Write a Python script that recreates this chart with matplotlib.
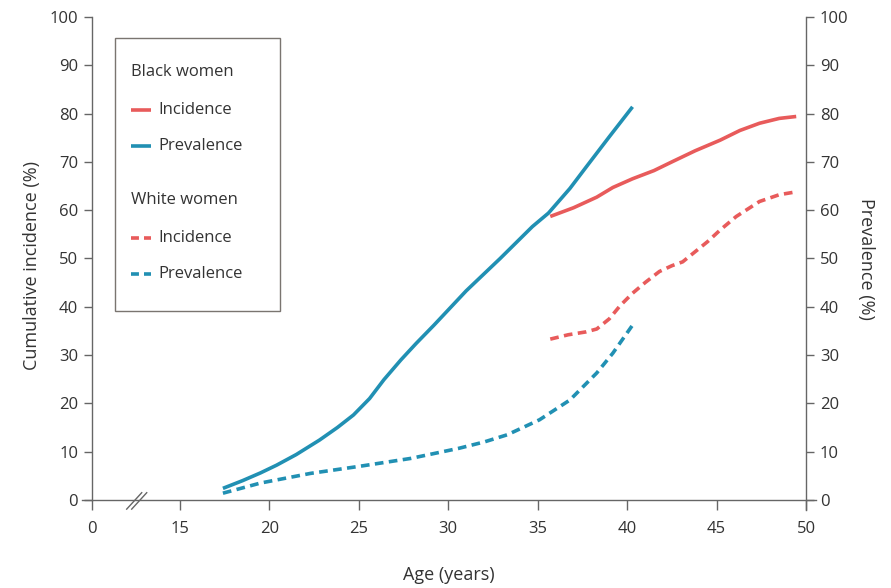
import numpy as np
import matplotlib.pyplot as plt
from matplotlib.lines import Line2D
from matplotlib.patches import Rectangle

plt.rcParams['font.family'] = ['Open Sans', 'DejaVu Sans']

RED = "#E85B5B"
BLUE = "#2190B3"
TEXT = "#333333"
AXIS = "#666666"

# where the "0" sits on the broken x axis
X_ZERO = 10.08

# Black women
black_prev_age = [17.4, 18.5, 19.5, 20.4, 21.5, 22.8, 23.8, 24.7, 25.6, 26.4, 27.35,
                  28.2, 29.2, 31.0, 32.9, 34.7, 35.6, 36.8, 37.7, 39.0, 40.3]
black_prev = [2.4, 4.0, 5.6, 7.2, 9.4, 12.4, 15.0, 17.6, 21.0, 24.9, 29.0,
              32.4, 36.2, 43.3, 50.0, 56.6, 59.4, 64.5, 68.9, 75.2, 81.4]
black_inc_age = [35.7, 37.0, 38.3, 39.2, 40.3, 41.5, 42.5, 43.8, 45.2, 46.3, 47.4, 48.5, 49.45]
black_inc = [58.7, 60.5, 62.7, 64.7, 66.5, 68.2, 70.0, 72.3, 74.5, 76.5, 78.0, 79.0, 79.4]

# White women
white_inc_age = [35.7, 36.7, 37.7, 38.3, 39.0, 39.6, 40.3, 41.0, 41.8, 42.5, 43.1,
                 43.7, 44.5, 45.2, 46.1, 47.4, 48.5, 49.45]
white_inc = [33.3, 34.2, 34.8, 35.4, 37.5, 40.2, 42.8, 45.0, 47.3, 48.5, 49.3,
             51.1, 53.5, 55.9, 58.7, 61.8, 63.2, 63.8]
white_prev_age = [17.4, 19.5, 22.3, 25.1, 27.9, 30.6, 32.0, 33.3, 35.1, 36.8, 38.3, 39.2, 40.3]
white_prev = [1.4, 3.5, 5.5, 7.0, 8.6, 10.7, 12.0, 13.5, 16.6, 20.7, 26.3, 30.4, 36.2]

x_ticks = [X_ZERO, 15, 20, 25, 30, 35, 40, 45, 50]
x_labels = ["0", "15", "20", "25", "30", "35", "40", "45", "50"]
y_ticks = np.arange(0, 101, 10)

fig = plt.figure(figsize=(8.91, 5.88), dpi=100)
ax = fig.add_axes([0.0922, 0.1325, 0.8235, 0.8386])
ax.set_xlim(X_ZERO - 0.55, 50.55)
ax.set_ylim(-2.1, 100)

LW = 2.6
DASH = (2.4, 1.5)
ax.plot(black_prev_age, black_prev, color=BLUE, lw=LW, solid_capstyle='butt')
ax.plot(black_inc_age, black_inc, color=RED, lw=LW, solid_capstyle='butt')
ax.plot(white_inc_age, white_inc, color=RED, lw=LW, dashes=DASH, dash_capstyle='butt')
ax.plot(white_prev_age, white_prev, color=BLUE, lw=LW, dashes=DASH, dash_capstyle='butt')

# spines
ax.spines['top'].set_visible(False)
for s in ['left', 'right', 'bottom']:
    ax.spines[s].set_color(AXIS)
    ax.spines[s].set_linewidth(1.0)
ax.spines['left'].set_position(('data', X_ZERO))
ax.spines['right'].set_position(('data', 50))
ax.spines['bottom'].set_position(('data', 0))
ax.spines['left'].set_bounds(0, 100)
ax.spines['right'].set_bounds(-2.1, 100)

ax.set_xticks(x_ticks)
ax.set_xticklabels(x_labels)
ax.set_yticks(y_ticks)
ax.tick_params(axis='x', direction='out', length=7, width=1, color=AXIS,
               labelsize=12, labelcolor=TEXT, pad=8)
ax.tick_params(axis='y', direction='out', length=6, width=1, color=AXIS,
               labelsize=12, labelcolor=TEXT, pad=4,
               left=True, right=True, labelleft=True, labelright=True)

fig.text(449 / 891, 1 - 575 / 588, "Age (years)", fontsize=13, color=TEXT,
         ha='center', va='center')
fig.text(32 / 891, 1 - 266 / 588, "Cumulative incidence (%)", fontsize=13, color=TEXT,
         ha='center', va='center', rotation=90)
fig.text(866 / 891, 1 - 259 / 588, "Prevalence (%)", fontsize=13, color=TEXT,
         ha='center', va='center', rotation=270)

# axis break marks
for dx in [0.0, 0.28]:
    ax.plot([12.02 + dx, 12.86 + dx], [-1.9, 1.5], color=AXIS, lw=1.0, clip_on=False)

# legend box
W, H = 891.0, 588.0
def fx(px):
    return px / W
def fy(py):
    return 1 - py / H

fig.patches.append(Rectangle((fx(115), fy(311)), fx(280) - fx(115), fy(38) - fy(311),
                             transform=fig.transFigure, fill=True, facecolor='white',
                             edgecolor='#7a7570', lw=1.0, zorder=5))
items = [("Black women", None, None, 72),
         ("Incidence", RED, '-', 110),
         ("Prevalence", BLUE, '-', 146),
         ("White women", None, None, 200),
         ("Incidence", RED, '--', 238),
         ("Prevalence", BLUE, '--', 274)]
for label, col, ls, py in items:
    if col is None:
        fig.text(fx(131), fy(py), label, fontsize=12, color=TEXT, va='center', ha='left', zorder=6)
    else:
        if ls == '-':
            line = Line2D([fx(131), fx(151)], [fy(py), fy(py)], transform=fig.transFigure,
                          color=col, lw=LW, solid_capstyle='butt', zorder=6)
        else:
            line = Line2D([fx(131), fx(151)], [fy(py), fy(py)], transform=fig.transFigure,
                          color=col, lw=LW, dashes=(2.2, 1.4), dash_capstyle='butt', zorder=6)
        fig.lines.append(line)
        fig.text(fx(158), fy(py), label, fontsize=12, color=TEXT, va='center', ha='left', zorder=6)

fig.savefig("out.png", dpi=100)
